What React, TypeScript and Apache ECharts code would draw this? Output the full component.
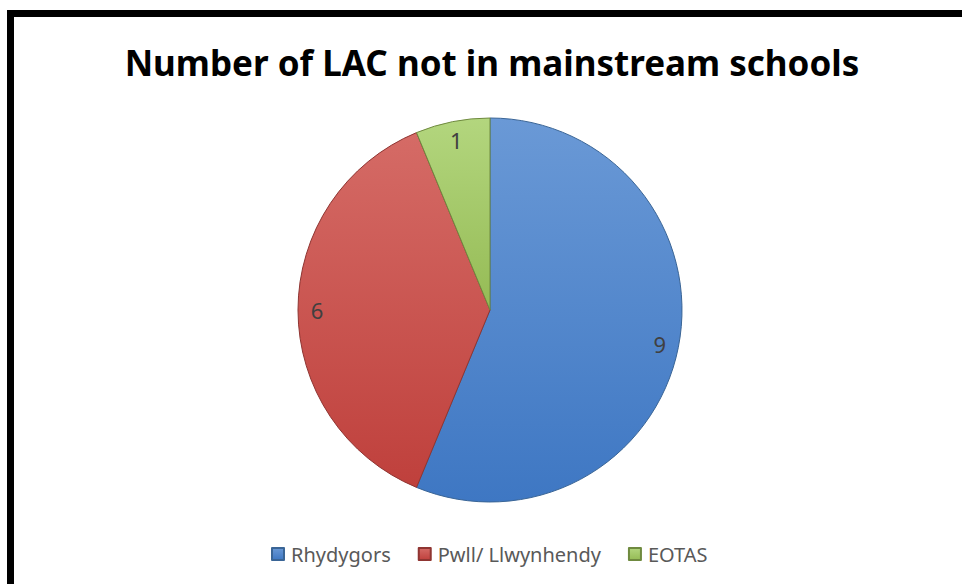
import React, { useEffect, useRef } from "react";
import * as echarts from "echarts";

const categories = ["Rhydygors", "Pwll/ Llwynhendy", "EOTAS"];
const values = [9, 6, 1];
const titleText = "Number of LAC not in mainstream schools";

const gradients = [
  ["#6a99d6", "#3e77c3"],
  ["#d56b66", "#bf403c"],
  ["#b3d67e", "#95bb55"],
];
const borders = ["#3a6596", "#8f3532", "#6f8a3f"];

export default function App() {
  const ref = useRef<HTMLDivElement>(null);
  useEffect(() => {
    if (!ref.current) return;
    const chart = echarts.init(ref.current, undefined, { renderer: "svg" });
    const font = "Noto Sans";
    const mainData = categories.map((name, i) => ({
      name,
      value: values[i],
      itemStyle: {
        color: {
          type: "linear",
          x: 0,
          y: 0,
          x2: 0,
          y2: 1,
          colorStops: [
            { offset: 0, color: gradients[i][0] },
            { offset: 1, color: gradients[i][1] },
          ],
        },
        borderColor: borders[i],
        borderWidth: 1,
      },
    }));
    const labelData = categories.map((name, i) => ({ name, value: values[i] }));
    chart.setOption({
      animation: false,
      backgroundColor: "#ffffff",
      legend: {
        data: categories,
        left: 266,
        top: 539,
        icon: "rect",
        itemWidth: 12,
        itemHeight: 12,
        itemGap: 27,
        textStyle: { fontFamily: font, fontSize: 20, color: "#595959", padding: [0, 0, 0, 2] },
      },
      graphic: [
        { type: "rect", shape: { x: 7, y: 10, width: 955, height: 7 }, style: { fill: "#000" } },
        { type: "rect", shape: { x: 7, y: 10, width: 7, height: 574 }, style: { fill: "#000" } },
        {
          type: "text",
          x: 492,
          y: 62,
          style: {
            text: titleText,
            fontFamily: font,
            fontWeight: "bold",
            fontSize: 35,
            fill: "#000",
            align: "center",
            verticalAlign: "middle",
          },
        },
      ],
      series: [
        {
          type: "pie",
          center: [490, 310],
          radius: [0, 192],
          startAngle: 90,
          clockwise: true,
          label: { show: false },
          labelLine: { show: false },
          emphasis: { disabled: true },
          data: mainData,
        },
        {
          type: "pie",
          center: [490, 310],
          radius: [148, 192],
          startAngle: 90,
          clockwise: true,
          silent: true,
          itemStyle: { color: "rgba(0,0,0,0)", borderWidth: 0 },
          label: {
            show: true,
            position: "inside",
            formatter: "{c}",
            fontFamily: font,
            fontSize: 22,
            color: "#404040",
          },
          labelLine: { show: false },
          emphasis: { disabled: true },
          data: labelData,
        },
      ],
    });
    return () => chart.dispose();
  }, []);
  return (
    <div
      ref={ref}
      style={{ position: "absolute", left: 0, top: 0, width: 962, height: 584 }}
    />
  );
}
